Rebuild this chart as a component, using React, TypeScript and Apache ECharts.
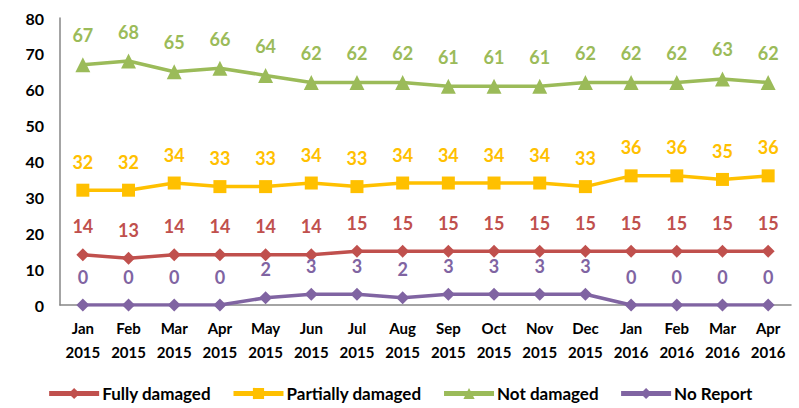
import React, { useEffect, useRef } from "react";
import * as echarts from "echarts";

const categories = [
  "Jan\n2015", "Feb\n2015", "Mar\n2015", "Apr\n2015", "May\n2015", "Jun\n2015",
  "Jul\n2015", "Aug\n2015", "Sep\n2015", "Oct\n2015", "Nov\n2015", "Dec\n2015",
  "Jan\n2016", "Feb\n2016", "Mar\n2016", "Apr\n2016",
];
const fullyDamaged = [14, 13, 14, 14, 14, 14, 15, 15, 15, 15, 15, 15, 15, 15, 15, 15];
const partiallyDamaged = [32, 32, 34, 33, 33, 34, 33, 34, 34, 34, 34, 33, 36, 36, 35, 36];
const notDamaged = [67, 68, 65, 66, 64, 62, 62, 62, 61, 61, 61, 62, 62, 62, 63, 62];
const noReport = [0, 0, 0, 0, 2, 3, 3, 2, 3, 3, 3, 3, 0, 0, 0, 0];

const FONT = "Lato, 'Open Sans', sans-serif";

function mkSeries(name: string, data: number[], color: string, symbol: string, size: number) {
  return {
    name,
    type: "line",
    data,
    symbol,
    symbolSize: size,
    showAllSymbol: true,
    itemStyle: { color },
    lineStyle: { color, width: 3.5 },
    label: {
      show: true,
      position: "top",
      distance: 13,
      color,
      fontFamily: FONT,
      fontWeight: "bold",
      fontSize: 18,
    },
  };
}

export default function App() {
  const ref = useRef<HTMLDivElement>(null);
  useEffect(() => {
    document.body.style.margin = "0";
    const chart = echarts.init(ref.current!, null, { renderer: "svg" });
    chart.setOption({
      animation: false,
      grid: { left: 60, right: 8, top: 18, bottom: 103, containLabel: false },
      xAxis: {
        type: "category",
        data: categories,
        boundaryGap: true,
        axisLine: { show: true, lineStyle: { color: "#868686", width: 1.5 } },
        axisTick: { show: false },
        axisLabel: {
          color: "#000",
          fontFamily: FONT,
          fontWeight: "bold",
          fontSize: 15,
          lineHeight: 24,
          margin: 11,
          interval: 0,
        },
      },
      yAxis: {
        type: "value",
        min: 0,
        max: 80,
        interval: 10,
        axisLine: { show: true, lineStyle: { color: "#868686", width: 1.5 } },
        axisTick: { show: false },
        splitLine: { show: false },
        axisLabel: {
          color: "#000",
          fontFamily: FONT,
          fontWeight: "bold",
          fontSize: 16,
          margin: 16,
        },
      },
      legend: {
        bottom: 1,
        left: "center",
        itemWidth: 50,
        itemHeight: 14,
        itemGap: 20,
        lineStyle: { width: 5 },
        textStyle: { color: "#000", fontFamily: FONT, fontWeight: "bold", fontSize: 17, padding: [0, 0, 0, -2] },
        data: ["Fully damaged", "Partially damaged", "Not damaged", "No Report"],
      },
      series: [
        mkSeries("Fully damaged", fullyDamaged, "#C0504D", "diamond", 13),
        mkSeries("Partially damaged", partiallyDamaged, "#FFC000", "rect", 13),
        mkSeries("Not damaged", notDamaged, "#9BBB59", "triangle", 15),
        mkSeries("No Report", noReport, "#8064A2", "diamond", 13),
      ],
    });
    return () => chart.dispose();
  }, []);
  return <div ref={ref} style={{ width: 799, height: 408, position: "absolute", left: 0, top: 0 }} />;
}
